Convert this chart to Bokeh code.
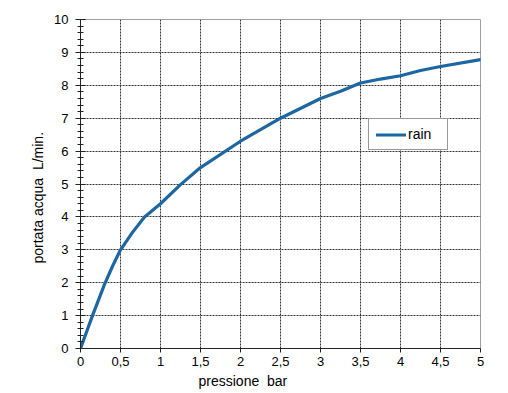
import math
from bokeh.plotting import figure
from bokeh.models import (FixedTicker, SingleIntervalTicker, Range1d, Legend, LegendItem, Title)
from bokeh.embed import file_html
from bokeh.resources import INLINE

# data
pressione = [0, 0.15, 0.3, 0.4, 0.5, 0.65, 0.8, 1, 1.25, 1.5, 2, 2.5, 3, 3.25, 3.5, 3.75, 4, 4.25, 4.5, 5]
portata = [0, 1.0, 1.95, 2.5, 3.0, 3.53, 4.0, 4.4, 4.98, 5.5, 6.3, 7.0, 7.6, 7.82, 8.07, 8.19, 8.29, 8.45, 8.57, 8.78]
x_ticks = [0, 0.5, 1, 1.5, 2, 2.5, 3, 3.5, 4, 4.5, 5]
x_tick_labels = ["0", "0,5", "1", "1,5", "2", "2,5", "3", "3,5", "4", "4,5", "5"]
series_name = "rain"
x_title = "pressione\u00a0\u00a0bar"
y_title = "portata acqua\u00a0\u00a0L/min."

FONT = "Liberation Sans"

p = figure(width=500, height=393, output_backend="svg", toolbar_location=None,
           x_range=Range1d(0, 5), y_range=Range1d(0, 10),
           min_border_left=80, min_border_right=20, min_border_top=19, min_border_bottom=45)
p.background_fill_color = "white"
p.border_fill_color = "white"
p.outline_line_color = "#a0a0a0"
p.outline_line_width = 1

# axes
p.xaxis.ticker = FixedTicker(ticks=x_ticks)
p.xaxis.major_label_overrides = {t: l for t, l in zip(x_ticks, x_tick_labels)}
p.xaxis.major_tick_in = 0
p.xaxis.major_tick_out = 4
p.xaxis.minor_tick_out = 0
p.xaxis.minor_tick_in = 0
p.xaxis.major_label_standoff = 4

p.yaxis.ticker = SingleIntervalTicker(interval=1, num_minor_ticks=5)
p.yaxis.major_tick_in = 5
p.yaxis.major_tick_out = 5
p.yaxis.minor_tick_in = 3
p.yaxis.minor_tick_out = 3
p.yaxis.major_label_standoff = 7

for ax in (p.xaxis, p.yaxis):
    ax.axis_line_color = "#222222"
    ax.major_tick_line_color = "#222222"
    ax.minor_tick_line_color = "#222222"
    ax.major_label_text_font = FONT
    ax.major_label_text_font_size = "13px"
    ax.major_label_text_color = "black"

# grid
for g in (p.xgrid, p.ygrid):
    g.grid_line_color = "#333333"
    g.grid_line_dash = "2 1"
    g.grid_line_width = 1
p.xgrid.ticker = FixedTicker(ticks=x_ticks)
p.ygrid.ticker = SingleIntervalTicker(interval=1)

r = p.line(pressione, portata, line_color="#1c66a2", line_width=3.2,
           line_join="round", line_cap="round")

legend = Legend(items=[LegendItem(label=series_name, renderers=[r])],
                location=(288, 198))
legend.border_line_color = "#333333"
legend.border_line_width = 1
legend.background_fill_color = "white"
legend.background_fill_alpha = 1
legend.padding = 7
legend.margin = 0
legend.glyph_width = 30
legend.glyph_height = 13
legend.label_height = 13
legend.label_width = 32
legend.label_standoff = 2
legend.label_text_font = FONT
legend.label_text_font_size = "14px"
legend.label_text_color = "black"
p.add_layout(legend, "center")

xt = Title(text=x_title, align="left", offset=118, standoff=4,
           text_font=FONT, text_font_size="14px", text_font_style="normal",
           text_color="black")
p.add_layout(xt, "below")
yt = Title(text=y_title, align="left", offset=85, standoff=11,
           text_font=FONT, text_font_size="14px", text_font_style="normal",
           text_color="black")
p.add_layout(yt, "left")

open("out.html", "w").write(file_html(p, INLINE))
